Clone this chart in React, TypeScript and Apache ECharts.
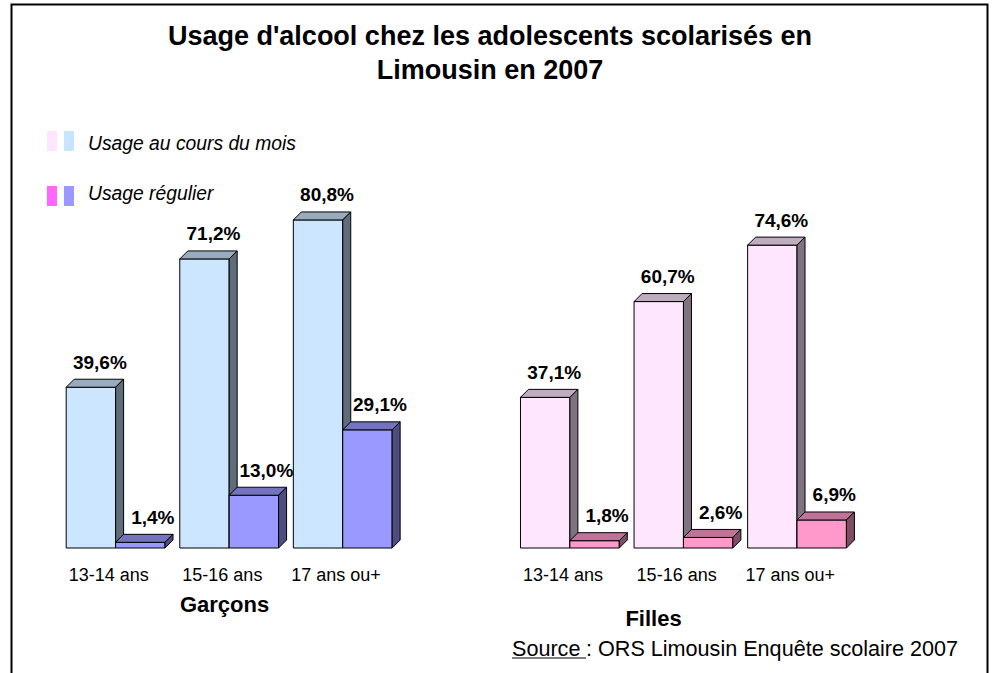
import React, { useEffect, useRef } from "react";
import * as echarts from "echarts";

// ---- Data ----
const categories = ["13-14 ans", "15-16 ans", "17 ans ou+", "", "13-14 ans", "15-16 ans", "17 ans ou+"];
const boysSlots = [0, 1, 2];
const girlsSlots = [4, 5, 6];
const boysMonth = [39.6, 71.2, 80.8];
const boysRegular = [1.4, 13.0, 29.1];
const girlsMonth = [37.1, 60.7, 74.6];
const girlsRegular = [1.8, 2.6, 6.9];
const titleLines = ["Usage d'alcool chez les adolescents scolarisés en", "Limousin en 2007"];
const legendLabels = ["Usage au cours du mois", "Usage régulier"];
const groupLabels = ["Garçons", "Filles"];
const sourceLabel = "Source";
const sourceRest = " : ORS Limousin Enquête scolaire 2007";

// ---- Styles ----
const FONT = '"Liberation Sans", Arial, Helvetica, sans-serif';
const palette = [
  [
    { front: "#CCE6FF", top: "#99ACBF", side: "#5F6C79" },
    { front: "#9999FF", top: "#7373BF", side: "#4D4D80" },
  ],
  [
    { front: "#FFE6FF", top: "#BFADBF", side: "#807380" },
    { front: "#FF99CC", top: "#BF7399", side: "#804D66" },
  ],
];

function buildData(boys: number[], girls: number[]) {
  return [
    ...boys.map((v, i) => [boysSlots[i], v, 0]),
    ...girls.map((v, i) => [girlsSlots[i], v, 1]),
  ];
}

function makeRender(pos: number) {
  return (params: any, api: any) => {
    const slot = api.value(0);
    const v = api.value(1);
    const g = api.value(2);
    const top = api.coord([slot, v]);
    const base = api.coord([slot, 0]);
    const bw = api.size([1, 0])[0];
    const w = bw * 0.435;
    const x0 = top[0] - bw * 0.375 + pos * w;
    const x1 = x0 + w;
    const yT = top[1];
    const yB = base[1];
    const d = 8;
    const pal = palette[g][pos];
    const label = v.toFixed(1).replace(".", ",") + "%";
    return {
      type: "group",
      children: [
        {
          type: "rect",
          shape: { x: x0, y: yT, width: w, height: yB - yT },
          style: { fill: pal.front, stroke: "#000", lineWidth: 1 },
        },
        {
          type: "polygon",
          shape: { points: [[x0, yT], [x1, yT], [x1 + d, yT - d], [x0 + d, yT - d]] },
          style: { fill: pal.top, stroke: "#000", lineWidth: 1 },
        },
        {
          type: "polygon",
          shape: { points: [[x1, yT], [x1 + d, yT - d], [x1 + d, yB - d], [x1, yB]] },
          style: { fill: pal.side, stroke: "#000", lineWidth: 1 },
        },
        {
          type: "text",
          x: x0 + w / 2 + (pos ? 12.5 : 9),
          y: yT - 25,
          style: {
            text: label,
            fill: "#000",
            font: `bold 19px ${FONT}`,
            align: "center",
            verticalAlign: "middle",
            textAlign: "center",
            textVerticalAlign: "middle",
          },
        },
      ],
    };
  };
}

function txt(text: string, x: number, y: number, font: string, align = "center") {
  return {
    type: "text",
    x,
    y,
    style: {
      text,
      fill: "#000",
      font,
      align,
      verticalAlign: "middle",
      textAlign: align,
      textVerticalAlign: "middle",
    },
  };
}

export default function App() {
  const ref = useRef<HTMLDivElement>(null);
  useEffect(() => {
    if (!ref.current) return;
    const chart = echarts.init(ref.current, undefined, { renderer: "svg" });
    chart.setOption({
      animation: false,
      backgroundColor: "#fff",
      textStyle: { fontFamily: FONT },
      grid: { left: 52, right: 146, top: 142, bottom: 125, containLabel: false },
      xAxis: {
        type: "category",
        data: categories,
        axisLine: { show: false },
        axisTick: { show: false },
        splitLine: { show: false },
        axisLabel: { fontSize: 18, color: "#000", margin: 18, fontFamily: FONT, interval: 0 },
      },
      yAxis: { type: "value", min: 0, max: 100, show: false },
      series: [
        {
          type: "custom",
          name: legendLabels[0],
          renderItem: makeRender(0),
          data: buildData(boysMonth, girlsMonth),
          encode: { x: 0, y: 1 },
          z: 2,
        },
        {
          type: "custom",
          name: legendLabels[1],
          renderItem: makeRender(1),
          data: buildData(boysRegular, girlsRegular),
          encode: { x: 0, y: 1 },
          z: 3,
        },
      ],
      graphic: [
        {
          type: "polyline",
          shape: { points: [[11.5, 673], [11.5, 4.5], [987.5, 4.5], [987.5, 673]] },
          style: { stroke: "#000", lineWidth: 2, fill: "none" },
        },
        txt(titleLines[0], 490, 36, `bold 27px ${FONT}`),
        txt(titleLines[1], 490, 70, `bold 27px ${FONT}`),
        { type: "rect", shape: { x: 47, y: 131, width: 10, height: 20 }, style: { fill: "#FFE6FF" } },
        { type: "rect", shape: { x: 64, y: 131, width: 10, height: 20 }, style: { fill: "#C8E4FF" } },
        { type: "rect", shape: { x: 47, y: 186, width: 10, height: 20 }, style: { fill: "#FF66FF" } },
        { type: "rect", shape: { x: 64, y: 186, width: 10, height: 20 }, style: { fill: "#9999FF" } },
        txt(legendLabels[0], 88, 143.5, `italic 19.3px ${FONT}`, "left"),
        txt(legendLabels[1], 88, 193.5, `italic 19.3px ${FONT}`, "left"),
        txt(groupLabels[0], 224.5, 604.5, `bold 22px ${FONT}`),
        txt(groupLabels[1], 653.5, 618.5, `bold 22px ${FONT}`),
        txt(sourceLabel, 512, 648, `21.6px ${FONT}`, "left"),
        txt(sourceRest, 512 + 68, 648, `21.6px ${FONT}`, "left"),
        {
          type: "line",
          shape: { x1: 512, y1: 658, x2: 586, y2: 658 },
          style: { stroke: "#000", lineWidth: 1.2 },
        },
      ],
    });
    return () => chart.dispose();
  }, []);
  return (
    <div
      ref={ref}
      style={{ position: "fixed", left: 0, top: 0, width: 993, height: 673, background: "#fff" }}
    />
  );
}
